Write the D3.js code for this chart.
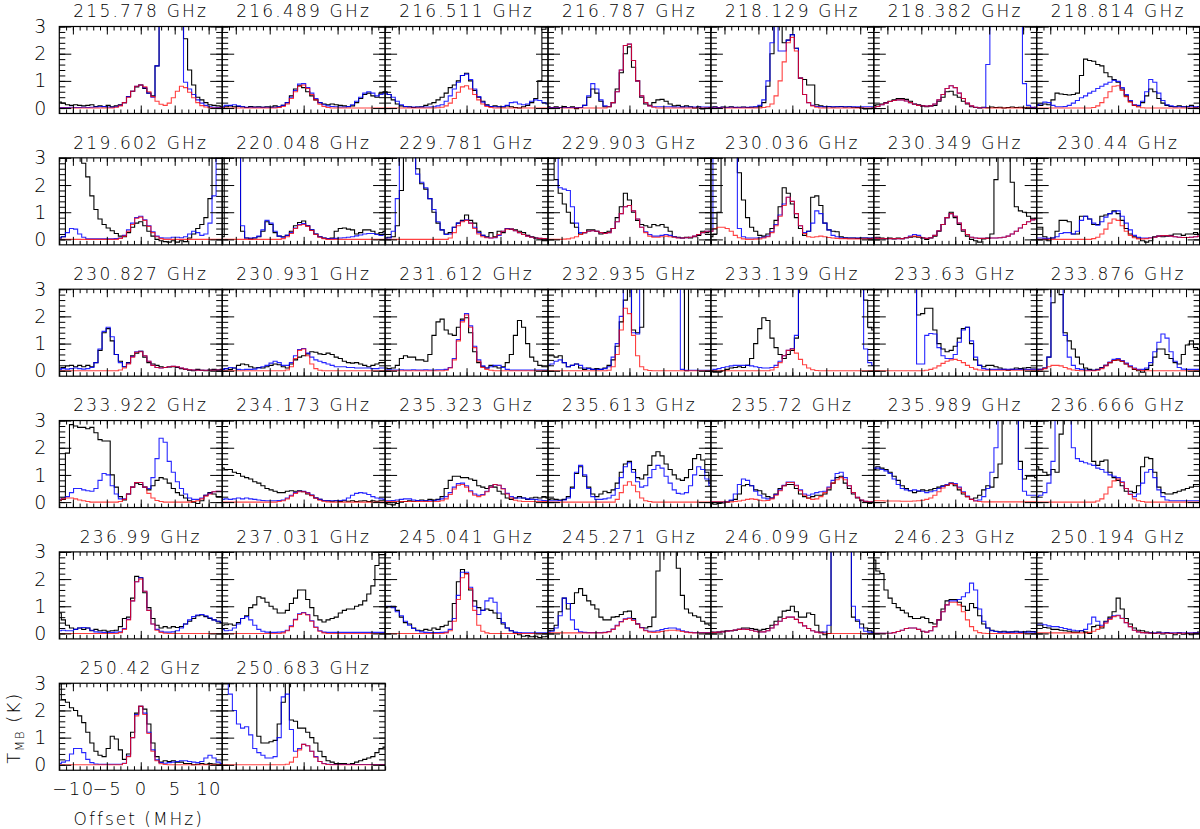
<!DOCTYPE html>
<html><head><meta charset="utf-8">
<script src="https://cdn.jsdelivr.net/npm/d3@7"></script>
<style>
html,body{margin:0;padding:0;background:#fff;}
svg{display:block;}
text{font-family:"DejaVu Sans",sans-serif;font-weight:200;fill:#000;}
</style></head><body>
<svg id="chart" width="1200" height="829"></svg>
<script>
// channel centres (MHz offset)
const channelOffsets = [-12,-11.4,-10.8,-10.2,-9.6,-9,-8.4,-7.8,-7.2,-6.6,-6,-5.4,-4.8,-4.2,-3.6,-3,-2.4,-1.8,-1.2,-0.6,0,0.6,1.2,1.8,2.4,3,3.6,4.2,4.8,5.4,6,6.6,7.2,7.8,8.4,9,9.6,10.2,10.8,11.4,12];
const freqLabels = ["215.778","216.489","216.511","216.787","218.129","218.382","218.814","219.602","220.048","229.781","229.903","230.036","230.349","230.44","230.827","230.931","231.612","232.935","233.139","233.63","233.876","233.922","234.173","235.323","235.613","235.72","235.989","236.666","236.99","237.031","245.041","245.271","246.099","246.23","250.194","250.42","250.683"];
const yTickValues = [0,1,2,3];
const xTickValues = [-10,-5,0,5,10];

// obs = observed (black), all = full model (blue), mod = species model (red)
const obs01=[0.22,0.18,0.12,0.1,0.12,0.1,0.08,0.1,0.12,0.06,0.08,0.05,0.1,0.05,0.08,0.12,0.2,0.42,0.62,0.78,0.85,0.72,0.55,0.45,1.55,3.5,3.5,3.5,3.5,3.5,3.5,2.55,1.4,0.85,0.4,0.3,0.2,0.12,0.1,0.08,0.05];
const all01=[0.02,0.02,0.02,0.03,0.02,0.02,0.03,0.02,0.03,0.04,0.05,0.06,0.04,0.03,0.05,0.1,0.2,0.42,0.62,0.8,0.85,0.75,0.55,0.4,1.55,3.5,3.5,3.5,3.5,3.5,3.5,0.95,0.7,0.5,0.3,0.18,0.1,0.05,0.03,0.02,0.02];
const mod01=[0,0,0,0,0,0,0,0,0,0,0,0,0,0,0.03,0.08,0.2,0.4,0.62,0.8,0.85,0.78,0.6,0.42,0.25,0.14,0.1,0.18,0.38,0.62,0.8,0.75,0.58,0.38,0.2,0.09,0.04,0.01,0,0,0];

const obs02=[0,0.05,0.08,0.05,0.06,0.05,0.02,0.06,0.04,0.05,0.03,0.05,0.04,0.08,0.05,0.1,0.2,0.45,0.7,0.82,0.75,0.6,0.45,0.3,0.2,0.15,0.12,0.15,0.12,0.1,0.08,0.05,0.08,0.2,0.35,0.5,0.55,0.45,0.4,0.55,0.6];
const all02=[0.05,0.1,0.1,0.12,0.08,0.05,0.03,0.03,0.03,0.03,0.03,0.03,0.03,0.03,0.05,0.1,0.2,0.4,0.65,0.88,0.9,0.75,0.55,0.35,0.2,0.12,0.08,0.06,0.05,0.04,0.04,0.06,0.12,0.25,0.4,0.55,0.6,0.55,0.45,0.5,0.55];
const mod02=[0,0,0,0,0,0,0,0,0,0,0,0,0,0,0.02,0.06,0.15,0.35,0.6,0.8,0.85,0.72,0.5,0.3,0.14,0.06,0.02,0,0,0,0,0,0,0,0,0,0,0,0,0,0];

const obs03=[0.6,0.5,0.3,0.15,0.08,0.05,0.05,0.02,0.04,0.05,0.1,0.15,0.2,0.3,0.4,0.55,0.75,0.85,1.0,1.2,1.28,1.0,0.65,0.4,0.25,0.12,0.06,0.08,0.05,0.04,0.08,0.05,0.02,0,0.05,0.1,0.2,0.35,1.0,2.9,3.5];
const all03=[0.55,0.5,0.4,0.25,0.12,0.06,0.04,0.04,0.04,0.04,0.04,0.04,0.05,0.08,0.12,0.25,0.45,0.7,0.95,1.2,1.25,1.05,0.7,0.42,0.22,0.1,0.06,0.05,0.05,0.06,0.1,0.2,0.22,0.15,0.12,0.15,0.25,0.3,0.28,0.2,0.15];
const mod03=[0,0,0,0,0,0,0,0,0,0,0,0,0,0.01,0.03,0.08,0.18,0.35,0.58,0.78,0.82,0.7,0.5,0.3,0.15,0.06,0.02,0,0,0,0,0,0,0,0,0,0,0,0,0,0];

const obs04=[0.05,0,0.05,0.02,0.06,0.02,0.05,-0.02,0.02,0.1,0.4,0.7,0.55,0.25,0.05,0.05,0.2,0.7,1.3,2.0,2.25,1.5,1.0,0.4,0.15,0.1,0.2,0.3,0.32,0.25,0.15,0.08,0.1,0.05,0.08,0.05,0,0.05,-0.03,0,0.02];
const all04=[0.02,0.02,0.02,0.02,0.02,0.02,0.02,0.02,0.02,0.1,0.45,0.9,0.7,0.3,0.08,0.06,0.2,0.6,1.4,2.3,2.35,1.75,1.0,0.45,0.2,0.08,0.05,0.05,0.05,0.05,0.05,0.04,0.04,0.04,0.04,0.04,0.04,0.04,0.04,0.04,0.04];
const mod04=[0,0,0,0,0,0,0,0,0,0,0,0,0,0,0,0.05,0.2,0.6,1.4,2.3,2.35,1.75,1.0,0.45,0.2,0.08,0.03,0,0,0,0,0,0,0,0,0,0,0,0,0,0];

const obs05=[0.03,0.05,0.02,0.04,0.03,0.05,0.02,0.03,0.04,0.02,0.03,0.04,0.05,0.2,0.8,2.0,3.5,3.5,2.4,2.5,2.7,2.2,1.1,1.05,0.85,0.85,0.12,0.08,0.05,0.06,0.04,0.05,0.06,0.04,0.05,0.03,0.02,0,-0.03,-0.02,0];
const all05=[0.02,0.03,0.02,0.03,0.02,0.03,0.03,0.02,0.03,0.03,0.04,0.05,0.1,0.3,1.0,2.4,3.5,2.1,2.1,2.5,2.7,2.2,1.1,0.5,0.2,0.1,0.06,0.05,0.05,0.05,0.05,0.05,0.05,0.05,0.05,0.05,0.05,0.05,0.05,0.05,0.05];
const mod05=[0,0,0,0,0,0,0,0,0,0,0,0,0,0.02,0.05,0.15,0.45,1.0,1.7,2.4,2.6,2.1,1.1,0.5,0.2,0.08,0.03,0,0,0,0,0,0,0,0,0,0,0,0,0,0];

const obs06=[0.1,0.12,0.15,0.2,0.25,0.3,0.35,0.35,0.32,0.25,0.15,0.12,0.08,0.05,0.08,0.1,0.25,0.4,0.6,0.62,0.48,0.4,0.25,0.15,0.05,0.02,0,0.03,0.01,0.04,0.02,0.03,0,0.02,0.04,0.02,0.03,0.01,0.03,0.02,0.03];
const all06=[0.03,0.06,0.12,0.18,0.24,0.28,0.3,0.3,0.26,0.2,0.14,0.1,0.08,0.07,0.08,0.15,0.3,0.5,0.72,0.82,0.75,0.55,0.35,0.18,0.08,0.03,0.01,0.02,1.6,3.5,3.5,3.5,3.5,3.5,3.5,3.5,3.5,0.9,0.1,0.03,0.02];
const mod06=[0.03,0.06,0.12,0.18,0.24,0.28,0.3,0.3,0.26,0.2,0.14,0.1,0.08,0.07,0.08,0.15,0.3,0.5,0.72,0.82,0.75,0.55,0.35,0.18,0.08,0.03,0.01,0,0,0,0,0,0,0,0,0,0,0,0,0,0];

const obs07=[0.12,0.1,0.15,0.12,0.3,0.55,0.52,0.5,0.48,0.5,0.55,1.2,1.8,1.75,1.72,1.6,1.55,1.3,1.15,1.05,0.95,0.7,0.45,0.25,0.1,0.08,0.2,0.45,0.7,0.6,0.35,0.18,0.1,0.06,0.05,0.08,0.05,0.05,0.1,0.03,0.05];
const all07=[0.1,0.15,0.22,0.2,0.1,0.05,0.05,0.06,0.1,0.18,0.28,0.38,0.45,0.55,0.62,0.72,0.8,0.88,0.95,1.02,0.98,0.75,0.5,0.28,0.12,0.1,0.25,0.6,1.05,0.95,0.55,0.28,0.12,0.08,0.05,0.05,0.05,0.05,0.05,0.05,0.05];
const mod07=[0,0,0,0,0,0,0,0,0,0,0,0,0,0,0.02,0.08,0.2,0.38,0.6,0.8,0.82,0.65,0.42,0.22,0.1,0.04,0.01,0,0,0,0,0,0,0,0,0,0,0,0,0,0];

const obs08=[0.05,0.1,3.5,3.5,3.5,3.5,2.8,2.3,1.6,1.1,0.75,0.55,0.42,0.32,0.22,0.12,0.1,0.25,0.45,0.6,0.65,0.5,0.3,0.12,0,-0.05,-0.08,-0.1,-0.05,-0.1,-0.05,-0.08,0.05,0.2,0.4,0.55,0.8,1.5,3.5,3.5,3.5];
const all08=[0.05,0.1,0.25,0.4,0.38,0.2,0.08,0.02,0.02,0.02,0.02,0.02,0.02,0.02,0.03,0.05,0.15,0.35,0.6,0.8,0.85,0.72,0.5,0.28,0.12,0.06,0.05,0.05,0.08,0.08,0.06,0.1,0.2,0.3,0.25,0.15,0.2,0.6,1.6,3.5,3.5];
const mod08=[0,0,0,0,0,0,0,0,0,0,0,0,0,0,0,0.04,0.12,0.3,0.55,0.78,0.82,0.7,0.48,0.25,0.1,0.03,0,0,0,0,0,0,0,0,0,0,0,0,0,0,0];

const obs09=[0.1,3.5,3.5,3.5,3.5,0.3,0.05,0.02,0.05,0.1,0.3,0.65,0.55,0.25,0.12,0.1,0.15,0.3,0.5,0.62,0.68,0.5,0.35,0.2,0.1,0.05,0.03,0.05,0.3,0.4,0.42,0.38,0.35,0.2,0.25,0.35,0.35,0.3,0.2,0.25,0.3];
const all09=[3.5,3.5,3.5,3.5,3.5,0.5,0.05,0.05,0.06,0.12,0.35,0.7,0.6,0.3,0.12,0.08,0.15,0.25,0.42,0.55,0.58,0.5,0.35,0.2,0.1,0.05,0.03,0.03,0.04,0.05,0.06,0.08,0.1,0.13,0.16,0.2,0.22,0.22,0.18,0.15,0.2];
const mod09=[0,0,0,0,0,0,0,0,0,0,0,0,0,0,0,0.03,0.1,0.22,0.4,0.52,0.55,0.48,0.33,0.18,0.08,0.03,0,0,0,0,0,0,0,0,0,0,0,0,0,0,0];

const obs10=[0.05,0.08,0.1,0.5,1.8,3.5,3.5,3.5,2.6,2.05,1.85,1.5,1.0,0.6,0.35,0.2,0.25,0.45,0.6,0.7,0.9,0.7,0.6,0.3,0.15,0.1,0.25,0.1,0.3,0.25,0.4,0.38,0.35,0.3,0.25,0.15,0.1,0.05,0.02,-0.05,-0.05];
const all10=[0.05,0.05,0.3,1.5,3.5,3.5,3.5,3.5,2.4,2.1,1.9,1.5,1.1,0.65,0.35,0.18,0.2,0.45,0.6,0.68,0.72,0.6,0.45,0.25,0.15,0.08,0.05,0.06,0.15,0.3,0.4,0.38,0.32,0.25,0.18,0.12,0.08,0.05,0.04,0.03,0.02];
const mod10=[0,0,0,0,0,0,0,0,0,0,0,0,0,0,0,0,0.05,0.25,0.5,0.65,0.7,0.6,0.4,0.2,0.1,0.06,0.05,0.08,0.18,0.3,0.38,0.38,0.32,0.25,0.18,0.12,0.08,0.05,0.04,0.03,0.02];

const obs11=[3.5,3.5,2.2,1.7,1.3,1.0,0.6,0.45,0.2,0.25,0.35,0.35,0.3,0.2,0.25,0.3,0.4,0.8,1.2,1.7,1.45,1.0,0.7,0.55,0.5,0.45,0.55,0.5,0.55,0.45,0.3,0.1,0.08,0.05,0.08,0.05,0.1,0.15,0.3,0.25,0.3];
const all11=[3.5,3.5,3.5,1.9,1.85,1.8,1.2,0.6,0.25,0.25,0.3,0.32,0.3,0.25,0.22,0.25,0.4,0.65,0.95,1.2,1.25,1.05,0.75,0.45,0.28,0.18,0.12,0.12,0.15,0.18,0.15,0.1,0.06,0.05,0.06,0.08,0.12,0.18,0.25,0.3,0.3];
const mod11=[0,0,0,0,0.01,0.02,0.05,0.1,0.18,0.25,0.3,0.32,0.3,0.25,0.22,0.25,0.4,0.65,0.95,1.2,1.25,1.05,0.75,0.45,0.25,0.12,0.08,0.08,0.1,0.12,0.1,0.08,0.05,0.05,0.06,0.08,0.12,0.18,0.25,0.3,0.3];

const obs12=[0.1,0.2,1.0,3.5,3.5,3.5,3.5,2.45,1.45,0.8,0.45,0.3,0.15,0.12,0.2,0.4,0.7,1.2,1.9,1.7,1.3,0.8,0.4,0.15,0.3,1.55,1.6,1.25,0.6,0.35,0.3,0.28,0.1,0.06,0.05,0.05,0.04,0.05,0.05,0.04,0.05];
const all12=[0.3,3.5,3.5,3.5,3.5,3.5,3.5,0.4,0.1,0.05,0.05,0.05,0.06,0.08,0.12,0.28,0.55,0.9,1.3,1.55,1.4,0.95,0.5,0.25,0.3,0.6,1.05,0.95,0.6,0.35,0.15,0.1,0.06,0.05,0.05,0.05,0.05,0.05,0.05,0.05,0.05];
const mod12=[0.3,0.4,0.45,0.45,0.4,0.3,0.15,0.06,0.02,0,0,0.01,0.02,0.05,0.1,0.25,0.5,0.85,1.25,1.55,1.4,0.95,0.5,0.22,0.1,0.08,0.1,0.12,0.1,0.07,0.05,0.04,0.03,0.03,0.02,0.02,0.02,0.02,0.02,0.02,0.02];

const obs13=[0.05,0.08,0.05,0.03,0.05,0.02,0.05,0.03,0.06,0.08,0.1,0.08,0.05,0,0.05,0.12,0.3,0.55,0.8,1.0,0.8,0.55,0.3,0.12,0,-0.05,-0.1,0.02,0.05,0.2,2.2,3.5,3.5,3.5,2.1,1.2,1.05,1.0,0.85,0.75,0.78];
const all13=[0.05,0.04,0.03,0.03,0.03,0.03,0.03,0.03,0.06,0.12,0.18,0.15,0.06,0.04,0.06,0.15,0.32,0.55,0.8,0.95,0.85,0.6,0.35,0.18,0.08,0.05,0.04,0.04,0.04,0.05,0.05,0.06,0.08,0.12,0.2,0.3,0.42,0.55,0.65,0.72,0.75];
const mod13=[0.05,0.04,0.03,0.03,0.03,0.03,0.03,0.03,0.06,0.1,0.12,0.1,0.06,0.04,0.06,0.15,0.32,0.55,0.8,0.95,0.85,0.6,0.35,0.18,0.08,0.05,0.04,0.04,0.04,0.05,0.05,0.06,0.08,0.12,0.2,0.3,0.42,0.55,0.65,0.72,0.75];

const obs14=[0.45,0.45,0.1,-0.05,0.05,0.3,0.7,0.7,0.65,0.2,0.2,0.85,0.85,0.75,0.55,0.55,0.85,0.9,0.95,1.05,0.95,0.7,0.4,0.2,0.1,0.05,-0.05,-0.1,-0.05,0.1,0.12,0.1,0.12,0.15,0.2,0.2,0.15,0.2,0.2,0.25,0.2];
const all14=[0.05,0.05,0.04,0.04,0.05,0.1,0.22,0.25,0.25,0.2,0.3,0.7,0.85,0.75,0.6,0.52,0.65,0.82,0.95,1.02,1.05,0.85,0.6,0.35,0.15,0.08,0.05,0.05,0.06,0.08,0.12,0.14,0.14,0.12,0.1,0.08,0.07,0.07,0.08,0.1,0.12];
const mod14=[0,0,0,0,0,0,0,0,0,0,0,0,0,0,0.03,0.08,0.2,0.38,0.6,0.75,0.7,0.5,0.3,0.15,0.06,0.02,0.02,0.03,0.05,0.08,0.12,0.14,0.14,0.12,0.1,0.08,0.07,0.07,0.08,0.1,0.12];

const obs15=[0.1,0.12,0.18,0.2,0.15,0.2,0.15,0.2,0.15,0.3,0.75,1.4,1.55,1.1,0.6,0.35,0.15,0.3,0.55,0.65,0.72,0.5,0.3,0.25,0.2,0.15,0.12,0.14,0.15,0.12,0.08,0.05,0.02,0,0.05,0.02,0,0.03,0.05,0.03,0.05];
const all15=[0.05,0.08,0.06,0.08,0.1,0.08,0.06,0.08,0.12,0.3,0.8,1.45,1.6,1.25,0.6,0.3,0.15,0.28,0.52,0.7,0.72,0.55,0.35,0.2,0.12,0.1,0.12,0.15,0.16,0.15,0.1,0.06,0.04,0.03,0.02,0.02,0.02,0.02,0.02,0.03,0.03];
const mod15=[0,0,0,0,0,0,0,0,0,0,0,0,0,0,0,0.03,0.1,0.25,0.5,0.68,0.7,0.55,0.35,0.2,0.12,0.1,0.12,0.15,0.16,0.15,0.1,0.06,0.04,0.03,0.02,0.02,0.02,0.02,0.02,0.03,0.03];

const obs16=[0.05,0.08,0.05,0.1,0.2,0.25,0.22,0.15,0.1,0.12,0.1,0.15,0.2,0.25,0.22,0.15,0.1,0.25,0.4,0.5,0.55,0.62,0.7,0.68,0.62,0.6,0.65,0.6,0.5,0.45,0.35,0.3,0.28,0.3,0.25,0.2,0.15,0.2,0.25,0.3,0.3];
const all16=[0.05,0.08,0.12,0.1,0.05,0.04,0.05,0.05,0.06,0.1,0.15,0.2,0.28,0.35,0.3,0.2,0.2,0.3,0.55,0.78,0.82,0.65,0.5,0.4,0.35,0.3,0.25,0.2,0.15,0.15,0.15,0.12,0.12,0.1,0.1,0.1,0.1,0.08,0.08,0.1,0.1];
const mod16=[0,0,0,0,0,0,0,0,0,0,0,0,0,0,0,0,0.03,0.15,0.45,0.75,0.8,0.55,0.25,0.08,0.02,0,0,0,0,0,0,0,0,0,0,0,0,0,0,0,0];

const obs17=[0.1,0.08,0.1,0.2,0.45,0.55,0.5,0.5,0.4,0.4,0.35,0.6,1.3,1.8,1.9,1.5,1.35,1.3,1.6,1.9,1.95,1.4,0.7,0.3,0.15,0.1,0.2,0.15,0.1,0.15,0.3,0.6,1.3,1.85,1.6,1.0,0.5,0.35,0.2,0.15,0.15];
const all17=[0.03,0.04,0.03,0.03,0.04,0.03,0.03,0.04,0.03,0.03,0.04,0.03,0.03,0.04,0.04,0.05,0.12,0.45,1.15,1.85,2.1,1.65,0.9,0.4,0.18,0.1,0.15,0.2,0.2,0.12,0.05,0.03,0.03,0.03,0.03,0.03,0.03,0.03,0.03,0.03,0.03];
const mod17=[0,0,0,0,0,0,0,0,0,0,0,0,0,0,0,0.02,0.1,0.4,1.1,1.8,2.05,1.6,0.85,0.35,0.12,0.05,0.02,0,0,0,0,0,0,0,0,0,0,0,0,0,0];

const obs18=[0.55,0.55,0.5,0.55,0.3,0.15,0.2,0.25,0.1,0.05,0.1,0.05,0.08,0.05,0.1,0.2,0.4,0.9,1.8,2.6,3.5,1.5,1.4,1.6,3.5,3.5,3.5,3.5,3.5,3.5,3.5,3.5,3.5,3.5,0,3.5,3.5,3.5,3.5,3.5,3.5];
const all18=[0.2,0.25,0.35,0.4,0.3,0.15,0.2,0.25,0.2,0.1,0.08,0.05,0.05,0.05,0.08,0.15,0.5,1.0,2.0,3.5,3.5,1.4,1.35,3.5,3.5,3.5,3.5,3.5,3.5,3.5,3.5,3.5,3.5,0.05,0.02,0.02,0.02,0.02,0.02,0.02,0.02];
const mod18=[0,0,0,0,0,0,0,0,0,0,0,0,0,0,0,0.02,0.15,0.6,1.5,2.3,2.1,1.3,0.55,0.15,0.04,0.01,0,0,0,0,0,0,0,0,0,0,0,0,0,0,0];

const obs19=[0,-0.05,-0.05,0,0.05,0.1,0.12,0.15,0.12,0.2,0.45,1.0,1.55,1.95,1.85,1.2,0.85,0.6,0.45,0.6,0.75,1.2,3.5,3.5,3.5,3.5,3.5,3.5,3.5,3.5,3.5,3.5,3.5,3.5,3.5,3.5,3.5,3.5,2.6,1.6,1.5];
const all19=[0.02,0.05,0.08,0.12,0.15,0.18,0.2,0.2,0.2,0.2,0.18,0.15,0.12,0.1,0.1,0.12,0.2,0.35,0.55,0.75,0.82,1.3,3.5,3.5,3.5,3.5,3.5,3.5,3.5,3.5,3.5,3.5,3.5,3.5,3.5,3.5,3.5,3.5,0.8,0.3,0.2];
const mod19=[0,0,0,0,0,0,0,0,0,0,0,0,0,0,0,0.03,0.12,0.3,0.55,0.75,0.8,0.65,0.42,0.22,0.1,0.04,0.01,0,0,0,0,0,0,0,0,0,0,0,0,0,0];

const obs20=[3.5,3.5,3.5,3.5,3.5,3.5,3.5,3.5,3.5,3.5,3.5,2.05,2.1,2.3,2.3,1.5,1.0,0.8,0.7,0.75,0.9,1.2,1.55,1.6,1.0,0.4,0.2,0.15,0.2,0.2,0.15,0.1,0.05,0.02,0.05,0.1,0.08,0.1,0.12,0.1,0.1];
const all20=[3.5,3.5,3.5,3.5,3.5,3.5,3.5,3.5,3.5,3.5,3.5,0.25,0.25,1.3,1.37,1.35,0.85,0.55,0.45,0.45,0.6,1.05,1.5,1.6,1.1,0.5,0.2,0.08,0.05,0.05,0.05,0.05,0.05,0.05,0.05,0.05,0.05,0.05,0.05,0.05,0.05];
const mod20=[0,0,0,0,0,0,0,0,0,0,0,0,0,0.02,0.05,0.1,0.18,0.27,0.35,0.4,0.42,0.38,0.3,0.2,0.12,0.06,0.03,0.02,0.02,0.02,0.02,0.02,0.02,0.02,0.02,0.02,0.02,0.02,0.02,0.02,0.02];

const obs21=[0.05,0.05,0.1,0.5,2.5,3.5,2.8,1.4,1.1,0.8,0.5,0.25,0.1,0.05,0.02,0.05,0.12,0.2,0.3,0.38,0.4,0.35,0.25,0.15,0.05,0,-0.05,0.05,0.2,0.5,0.8,0.8,0.6,0.45,0.3,0.25,0.6,0.95,1.1,0.85,0.8];
const all21=[0.05,0.05,0.1,0.5,3.5,3.5,3.5,1.3,0.5,0.2,0.08,0.05,0.03,0.02,0.02,0.04,0.1,0.2,0.32,0.42,0.45,0.38,0.28,0.18,0.1,0.05,0.05,0.1,0.3,0.7,1.05,1.35,1.2,0.7,0.35,0.12,0.06,0.05,0.05,0.05,0.05];
const mod21=[0.01,0.03,0.08,0.15,0.2,0.2,0.18,0.12,0.07,0.03,0.01,0,0,0,0,0.02,0.08,0.18,0.3,0.38,0.4,0.35,0.25,0.15,0.07,0.03,0.01,0,0,0,0,0,0,0,0,0,0,0,0,0,0];

const obs22=[0.05,0.1,1.8,2.85,2.8,2.75,2.75,2.7,2.75,2.55,2.3,2.25,2.25,1.0,0.55,0.2,0.08,0.3,0.55,0.7,0.65,0.55,0.45,0.6,0.8,0.9,0.85,0.7,0.5,0.35,0.25,0.15,0.05,0,-0.05,0.05,0.25,0.35,0.3,0.2,0.2];
const all22=[0.1,0.15,0.2,0.35,0.5,0.5,0.45,0.42,0.4,0.5,0.8,1.05,1.0,0.6,0.3,0.12,0.12,0.3,0.55,0.72,0.72,0.55,0.5,0.9,1.6,2.35,2.2,1.5,1.1,0.75,0.5,0.3,0.15,0.1,0.1,0.15,0.25,0.32,0.38,0.4,0.4];
const mod22=[0.08,0.12,0.15,0.15,0.12,0.08,0.05,0.02,0,0,0,0,0,0,0,0.02,0.1,0.3,0.55,0.72,0.72,0.55,0.32,0.15,0.06,0.02,0,0,0,0,0,0,0,0.02,0.05,0.12,0.22,0.3,0.38,0.4,0.4];

const obs23=[1.25,1.2,1.2,1.1,1.05,0.95,0.9,0.85,0.75,0.7,0.6,0.5,0.45,0.4,0.35,0.35,0.4,0.42,0.4,0.42,0.38,0.3,0.25,0.15,0.1,0.05,0.05,0.03,0.05,0.02,0.05,0.03,0.05,0.02,0.04,0.05,0.02,0.05,0.03,0.05,0.05];
const all23=[0.1,0.12,0.1,0.12,0.15,0.12,0.15,0.12,0.1,0.08,0.06,0.05,0.05,0.05,0.06,0.08,0.15,0.25,0.35,0.4,0.4,0.35,0.26,0.16,0.1,0.06,0.05,0.05,0.05,0.06,0.08,0.15,0.25,0.32,0.35,0.33,0.28,0.2,0.15,0.12,0.1];
const mod23=[0,0,0,0,0,0,0,0,0,0,0,0,0,0,0.02,0.05,0.12,0.22,0.32,0.38,0.38,0.33,0.24,0.14,0.07,0.03,0.01,0,0,0,0,0,0,0,0,0,0,0,0,0,0];

const obs24=[-0.05,-0.08,-0.1,-0.05,0,0.02,0.05,0.03,0.05,0.08,0.05,0.1,0.08,0.1,0.2,0.5,0.8,0.95,0.95,0.9,0.9,0.85,0.8,0.6,0.55,0.5,0.6,0.55,0.4,0.3,0.15,0.1,0.15,0.2,0.15,0.1,0.15,0.18,0.15,0.2,0.15];
const all24=[0.05,0.05,0.06,0.08,0.1,0.12,0.12,0.08,0.06,0.05,0.05,0.05,0.06,0.08,0.12,0.2,0.35,0.55,0.68,0.7,0.6,0.42,0.3,0.25,0.28,0.4,0.55,0.65,0.62,0.5,0.32,0.2,0.15,0.15,0.15,0.12,0.1,0.1,0.08,0.06,0.05];
const mod24=[0.02,0.02,0.02,0.02,0.02,0.02,0.02,0.02,0.02,0.02,0.02,0.02,0.02,0.02,0.05,0.12,0.28,0.48,0.62,0.65,0.55,0.38,0.25,0.2,0.25,0.38,0.55,0.65,0.62,0.48,0.3,0.15,0.07,0.04,0.02,0.02,0.02,0.02,0.02,0.02,0.02];

const obs25=[0.1,0.12,0.1,0.08,0.1,0.2,0.55,1.05,1.3,0.95,0.55,0.3,0.2,0.3,0.4,0.35,0.45,0.7,1.1,1.4,1.5,1.2,0.9,0.85,1.0,1.35,1.7,1.85,1.7,1.4,1.2,1.0,0.85,0.8,0.9,1.2,1.6,1.75,1.55,1.1,0.7];
const all25=[0.05,0.05,0.05,0.06,0.08,0.15,0.5,1.1,1.35,1.0,0.5,0.2,0.1,0.1,0.12,0.15,0.25,0.5,0.9,1.3,1.45,1.1,0.75,0.55,0.6,0.9,1.2,1.35,1.25,0.95,0.7,0.45,0.32,0.3,0.35,0.6,1.0,1.3,1.2,0.85,0.6];
const mod25=[0,0,0,0,0,0,0,0,0,0,0,0,0,0,0,0,0,0.1,0.35,0.62,0.75,0.62,0.38,0.15,0.05,0.02,0,0,0,0,0,0,0,0,0,0,0,0,0,0,0];

const obs26=[-0.05,-0.08,-0.05,-0.03,0,0.05,0.1,0.3,0.6,0.65,0.6,0.45,0.42,0.3,0.2,0.15,0.3,0.5,0.6,0.65,0.65,0.5,0.3,0.2,0.15,0.2,0.25,0.25,0.3,0.45,0.7,0.9,0.95,0.7,0.5,0.3,0.15,0.05,0,-0.05,0];
const all26=[0,0,0,0,0.02,0.08,0.3,0.65,0.85,0.8,0.6,0.4,0.25,0.15,0.12,0.15,0.28,0.45,0.62,0.74,0.74,0.62,0.45,0.3,0.25,0.3,0.35,0.38,0.4,0.55,0.8,1.05,1.1,0.9,0.6,0.35,0.18,0.08,0.03,0.01,0];
const mod26=[0.01,0.01,0.01,0.01,0.01,0.01,0.02,0.04,0.07,0.1,0.12,0.1,0.07,0.05,0.06,0.12,0.25,0.42,0.6,0.72,0.72,0.6,0.42,0.25,0.14,0.1,0.12,0.2,0.35,0.52,0.7,0.82,0.9,0.82,0.6,0.35,0.18,0.08,0.03,0.01,0];

const obs27=[1.2,1.3,1.25,1.2,1.1,0.95,0.8,0.6,0.5,0.42,0.35,0.4,0.45,0.42,0.45,0.5,0.55,0.6,0.62,0.7,0.6,0.45,0.3,0.2,0.1,0.15,0.25,0.45,0.6,0.55,0.9,1.4,3.5,3.5,3.5,3.5,1.5,0.85,0.95,0.95,0.9];
const all27=[1.25,1.25,1.2,1.15,1.05,0.85,0.65,0.5,0.45,0.42,0.45,0.42,0.4,0.35,0.38,0.42,0.5,0.58,0.65,0.7,0.68,0.55,0.38,0.22,0.1,0.05,0.08,0.2,0.5,1.1,2.0,3.5,3.5,3.5,3.5,3.5,1.2,0.4,0.25,0.25,0.25];
const mod27=[0.05,0.05,0.05,0.04,0.04,0.04,0.04,0.03,0.03,0.03,0.04,0.05,0.07,0.1,0.15,0.25,0.38,0.52,0.62,0.68,0.65,0.52,0.35,0.2,0.1,0.04,0.02,0.01,0.01,0.01,0.01,0.01,0.01,0.01,0.01,0.01,0.01,0.01,0.01,0.01,0.01];

const obs28=[1.3,1.2,1.1,1.0,1.2,1.1,2.5,3.5,3.5,3.5,3.5,3.5,3.5,3.5,1.5,1.35,1.5,1.55,1.1,0.9,0.8,0.6,0.4,0.4,0.35,0.6,1.3,1.65,1.6,1.1,0.55,0.35,0.3,0.3,0.35,0.4,0.45,0.5,0.55,0.65,0.65];
const all28=[0.2,0.25,0.35,0.7,1.5,3.5,3.5,3.5,3.5,2.0,1.6,1.5,1.45,1.4,1.35,1.25,1.2,1.1,1.0,0.95,0.9,0.75,0.5,0.3,0.2,0.3,0.7,1.1,1.2,0.9,0.45,0.2,0.08,0.05,0.05,0.05,0.05,0.05,0.05,0.05,0.05];
const mod28=[0,0,0,0,0,0,0,0,0,0,0,0,0,0,0,0.04,0.12,0.3,0.55,0.78,0.85,0.72,0.5,0.28,0.12,0.05,0.02,0,0,0,0,0,0,0,0,0,0,0,0,0,0];

const obs29=[0.75,0.5,0.3,0.2,0.15,0.2,0.15,0.2,0.1,0.15,0.1,0.12,0.08,0.1,0.12,0.25,0.55,0.6,1.3,2.1,2.05,1.5,0.95,0.55,0.3,0.2,0.25,0.2,0.25,0.22,0.25,0.35,0.45,0.55,0.65,0.68,0.62,0.55,0.5,0.45,0.4];
const all29=[0.1,0.12,0.1,0.1,0.15,0.2,0.22,0.2,0.12,0.06,0.05,0.04,0.04,0.04,0.05,0.06,0.18,0.52,1.2,1.9,2.05,1.55,0.85,0.35,0.15,0.08,0.05,0.05,0.06,0.1,0.2,0.35,0.5,0.62,0.68,0.7,0.65,0.58,0.5,0.45,0.4];
const mod29=[0,0,0,0,0,0,0,0,0,0,0,0,0,0,0,0.03,0.15,0.5,1.2,1.9,2.0,1.55,0.85,0.35,0.12,0.04,0.01,0,0,0,0,0,0,0,0,0,0,0,0,0,0];

const obs30=[0.3,0.32,0.35,0.3,0.4,0.55,0.65,0.95,1.05,1.35,1.3,1.15,1.0,0.9,0.75,0.75,0.85,1.1,1.3,1.6,1.6,1.25,0.95,0.65,0.5,0.42,0.5,0.55,0.6,0.75,0.85,0.9,0.9,1.0,1.05,1.2,1.45,1.75,2.5,2.9,2.9];
const all30=[0.15,0.1,0.12,0.2,0.35,0.55,0.62,0.5,0.3,0.15,0.08,0.05,0.04,0.04,0.05,0.06,0.12,0.28,0.52,0.72,0.77,0.7,0.47,0.24,0.1,0.05,0.04,0.04,0.04,0.04,0.04,0.04,0.04,0.04,0.04,0.04,0.04,0.04,0.04,0.04,0.04];
const mod30=[0,0,0,0,0,0,0,0,0,0,0,0,0,0,0,0.02,0.1,0.25,0.5,0.7,0.75,0.68,0.45,0.22,0.08,0.02,0,0,0,0,0,0,0,0,0,0,0,0,0,0,0];

const obs31=[0.95,0.98,1.0,0.85,0.6,0.4,0.35,0.2,0.12,0.1,0.15,0.12,0.2,0.15,0.25,0.3,0.45,1.1,1.9,2.35,2.2,1.6,1.2,0.95,0.85,0.9,0.85,0.75,0.55,0.35,0.2,0.1,0.02,-0.05,-0.1,-0.08,-0.12,-0.1,-0.15,-0.12,-0.1];
const all31=[1.0,1.0,0.95,0.8,0.65,0.45,0.3,0.18,0.1,0.06,0.04,0.03,0.03,0.03,0.04,0.05,0.15,0.55,1.4,2.25,2.25,1.7,1.0,0.7,0.85,1.2,1.3,1.15,0.75,0.4,0.2,0.1,0.05,0.03,0.02,0.02,0.02,0.02,0.02,0.02,0.02];
const mod31=[0,0,0,0,0,0,0,0,0,0,0,0,0,0,0,0.02,0.1,0.45,1.25,2.05,2.2,1.65,0.85,0.3,0.08,0.02,0,0,0,0,0,0,0,0,0,0,0,0,0,0,0];

const obs32=[0.1,0.12,0.3,0.8,1.3,0.9,1.1,1.5,1.65,1.4,1.2,1.05,0.9,0.6,0.5,0.5,0.6,0.62,0.7,0.8,0.82,0.55,0.35,0.22,0.2,0.25,0.6,2.3,3.5,3.5,3.5,3.5,2.4,1.4,0.9,0.75,0.65,0.6,0.45,0.35,0.3];
const all32=[0.05,0.08,0.2,0.65,1.3,1.1,0.5,0.15,0.06,0.04,0.03,0.03,0.03,0.03,0.04,0.07,0.16,0.3,0.44,0.54,0.57,0.5,0.36,0.22,0.12,0.08,0.08,0.1,0.14,0.18,0.2,0.2,0.16,0.1,0.06,0.04,0.03,0.03,0.03,0.03,0.03];
const mod32=[0.02,0.02,0.02,0.02,0.02,0.02,0.02,0.02,0.02,0.02,0.02,0.02,0.02,0.02,0.03,0.06,0.15,0.28,0.42,0.52,0.55,0.48,0.35,0.2,0.1,0.05,0.04,0.05,0.07,0.1,0.12,0.12,0.1,0.07,0.05,0.03,0.02,0.02,0.02,0.02,0.02];

const obs33=[0.05,0.04,0.05,0.08,0.1,0.1,0.12,0.15,0.2,0.2,0.18,0.15,0.12,0.15,0.18,0.3,0.45,0.6,0.82,0.85,1.0,0.8,0.6,0.6,0.75,0.7,0.3,0.05,-0.05,0,3.5,3.5,3.5,3.5,3.5,0.6,0.45,0.35,0.2,0.1,0.05];
const all33=[0.03,0.04,0.05,0.06,0.08,0.1,0.13,0.15,0.16,0.15,0.12,0.08,0.06,0.06,0.1,0.2,0.32,0.45,0.55,0.6,0.6,0.52,0.4,0.28,0.18,0.1,0.05,0.03,0.05,0.3,3.5,3.5,3.5,3.5,3.5,1.0,0.5,0.2,0.08,0.05,0.04];
const mod33=[0.03,0.04,0.05,0.06,0.08,0.1,0.13,0.15,0.16,0.15,0.12,0.08,0.06,0.06,0.1,0.2,0.32,0.45,0.55,0.6,0.6,0.52,0.4,0.28,0.18,0.1,0.05,0.02,0.01,0,0,0,0,0,0,0,0,0,0,0,0];

const obs34=[2.7,2.3,2.2,1.6,1.3,1.1,0.95,0.85,0.75,0.62,0.55,0.55,0.6,0.55,0.4,0.35,0.5,0.9,1.2,1.25,1.25,1.15,1.0,0.85,1.1,0.95,0.65,0.35,0.2,0.12,0.08,0.06,0.08,0.05,0.06,0.08,0.05,0.06,0.08,0.07,0.06];
const all34=[0.01,0.01,0.01,0.01,0.01,0.03,0.07,0.12,0.18,0.2,0.2,0.15,0.08,0.05,0.1,0.25,0.5,0.8,1.05,1.2,1.2,1.25,1.35,1.5,1.85,1.6,0.9,0.45,0.2,0.1,0.07,0.05,0.05,0.05,0.05,0.05,0.05,0.05,0.05,0.05,0.05];
const mod34=[0.01,0.01,0.01,0.01,0.01,0.03,0.07,0.12,0.18,0.2,0.2,0.15,0.08,0.05,0.1,0.25,0.5,0.8,1.05,1.15,1.15,1.05,0.8,0.5,0.25,0.1,0.03,0.01,0,0,0,0,0,0,0,0,0,0,0,0,0];

const obs35=[0.3,0.3,0.22,0.2,0.15,0.15,0.12,0.1,0.08,0.05,0.05,0.1,0.05,0,0.25,0.3,0.2,0.45,0.6,0.8,1.3,0.9,0.55,0.35,0.2,0.12,0.1,0.05,0.02,0,0.05,-0.02,0.03,0,-0.05,0.02,-0.03,0,-0.05,0.02,0.05];
const all35=[0.35,0.35,0.32,0.28,0.25,0.25,0.22,0.18,0.15,0.12,0.1,0.1,0.15,0.35,0.6,0.45,0.3,0.42,0.55,0.65,0.67,0.56,0.4,0.25,0.12,0.06,0.03,0.02,0.02,0.02,0.02,0.02,0.02,0.02,0.02,0.02,0.02,0.02,0.02,0.02,0.02];
const mod35=[0.02,0.02,0.02,0.02,0.02,0.02,0.02,0.02,0.02,0.02,0.02,0.02,0.02,0.04,0.08,0.15,0.25,0.38,0.52,0.62,0.65,0.55,0.4,0.25,0.12,0.06,0.03,0.02,0.01,0.01,0.01,0.01,0.01,0.01,0.01,0.01,0.01,0.01,0.01,0.01,0.01];

const obs36=[3.5,2.4,2.3,2.1,2.0,1.8,1.55,1.2,0.8,0.5,0.35,0.3,0.6,1.05,0.95,0.55,0.2,0.4,1.2,1.9,2.15,2.05,1.5,0.8,0.3,0.1,0.15,0.12,0.15,0.1,0.1,0.05,0.05,0,0.02,0.05,0.02,0.05,0.03,0.02,0];
const all36=[0.05,0.1,0.15,0.4,0.6,0.6,0.45,0.2,0.08,0.03,0.02,0.02,0.02,0.02,0.02,0.02,0.06,0.32,1.0,1.85,2.15,1.9,1.2,0.55,0.18,0.08,0.06,0.08,0.1,0.12,0.15,0.15,0.12,0.1,0.08,0.12,0.25,0.35,0.25,0.1,0.05];
const mod36=[0,0,0,0,0,0,0,0,0,0,0,0,0,0,0,0,0.05,0.3,1.0,1.8,2.15,1.85,1.15,0.5,0.15,0.04,0.01,0,0,0,0,0,0,0,0,0,0,0,0,0,0];

const obs37=[3.5,3.5,3.5,3.5,3.5,3.5,3.5,3.5,3.5,1.05,0.8,0.8,0.85,0.9,1.5,2.3,3.5,1.65,1.6,1.35,1.35,1.2,1.0,0.8,0.5,0.3,0.15,0.1,0.05,0.05,0.05,0.02,0.05,0.1,0.15,0.2,0.25,0.3,0.45,0.6,0.65];
const all37=[3.5,3.5,2.6,2.0,1.5,1.35,1.4,1.1,0.6,0.45,0.35,0.25,0.25,0.3,1.0,2.5,2.6,1.3,0.5,0.6,0.75,0.7,0.5,0.3,0.12,0.05,0.02,0.01,0.01,0.01,0.01,0.01,0.01,0.01,0.01,0.01,0.01,0.01,0.01,0.01,0.01];
const mod37=[0,0,0,0,0,0,0,0,0,0,0,0,0,0,0,0,0.02,0.1,0.28,0.55,0.75,0.7,0.5,0.28,0.12,0.04,0.01,0,0,0,0,0,0,0,0,0,0,0,0,0,0];

const obsList=[obs01,obs02,obs03,obs04,obs05,obs06,obs07,obs08,obs09,obs10,obs11,obs12,obs13,obs14,obs15,obs16,obs17,obs18,obs19,obs20,obs21,obs22,obs23,obs24,obs25,obs26,obs27,obs28,obs29,obs30,obs31,obs32,obs33,obs34,obs35,obs36,obs37];
const allList=[all01,all02,all03,all04,all05,all06,all07,all08,all09,all10,all11,all12,all13,all14,all15,all16,all17,all18,all19,all20,all21,all22,all23,all24,all25,all26,all27,all28,all29,all30,all31,all32,all33,all34,all35,all36,all37];
const modList=[mod01,mod02,mod03,mod04,mod05,mod06,mod07,mod08,mod09,mod10,mod11,mod12,mod13,mod14,mod15,mod16,mod17,mod18,mod19,mod20,mod21,mod22,mod23,mod24,mod25,mod26,mod27,mod28,mod29,mod30,mod31,mod32,mod33,mod34,mod35,mod36,mod37];

const panels = freqLabels.map((f,i)=>({label:f+" GHz", series:[
  {vals:obsList[i], color:"#000000", op:1},
  {vals:allList[i], color:"#0000ff", op:0.85},
  {vals:modList[i], color:"#ff0000", op:0.75}
]}));

// ---- layout ----
const left0=59.3, top0=26.5, pw=162.9, ph=87, rowPitch=131.35, ncol=7;
const svg=d3.select("#chart");
const x=d3.scaleLinear().domain([-12,12]).range([0,pw]);
const y=d3.scaleLinear().domain([-0.2,3]).range([ph,0]);
svg.append("defs").append("clipPath").attr("id","pclip").append("rect")
  .attr("x",0).attr("y",0).attr("width",pw).attr("height",ph);

const line=d3.line().x((d,i)=>x(channelOffsets[i])).y(d=>y(d)).curve(d3.curveStep);
const minorX=d3.range(-12,12.001,1);
const minorY=d3.range(0,3.001,0.2).map(v=>+v.toFixed(1));

function styleAxis(g){ g.select(".domain").remove(); g.selectAll("line").attr("stroke","#000").attr("stroke-width",1); }

panels.forEach((p,k)=>{
  const c=k%ncol, r=Math.floor(k/ncol);
  const g=svg.append("g").attr("transform",`translate(${left0+c*pw},${top0+r*rowPitch})`);
  g.append("text").attr("x",pw/2).attr("y",-9.2).attr("text-anchor","middle")
    .attr("font-size",17).style("letter-spacing","2.2px").text(p.label);
  const lg=g.append("g").attr("clip-path","url(#pclip)");
  p.series.forEach(s=>{
    lg.append("path").datum(s.vals).attr("d",line).attr("fill","none")
      .attr("stroke",s.color).attr("stroke-width",1.1).attr("stroke-opacity",s.op);
  });
  // ticks
  g.append("g").attr("transform",`translate(0,${ph})`).call(d3.axisBottom(x).tickValues(minorX).tickSize(-4).tickFormat("")).call(styleAxis);
  g.append("g").attr("transform",`translate(0,${ph})`).call(d3.axisBottom(x).tickValues(xTickValues).tickSize(-8).tickFormat("")).call(styleAxis);
  g.append("g").call(d3.axisTop(x).tickValues(minorX).tickSize(-4).tickFormat("")).call(styleAxis);
  g.append("g").call(d3.axisTop(x).tickValues(xTickValues).tickSize(-8).tickFormat("")).call(styleAxis);
  g.append("g").call(d3.axisLeft(y).tickValues(minorY).tickSize(-6).tickFormat("")).call(styleAxis);
  g.append("g").call(d3.axisLeft(y).tickValues(yTickValues).tickSize(-12).tickFormat("")).call(styleAxis);
  g.append("g").attr("transform",`translate(${pw},0)`).call(d3.axisRight(y).tickValues(minorY).tickSize(-6).tickFormat("")).call(styleAxis);
  g.append("g").attr("transform",`translate(${pw},0)`).call(d3.axisRight(y).tickValues(yTickValues).tickSize(-12).tickFormat("")).call(styleAxis);
  g.append("rect").attr("width",pw).attr("height",ph).attr("fill","none").attr("stroke","#000").attr("stroke-width",1.2);
  if(c===0){
    const ya=g.append("g").call(d3.axisLeft(y).tickValues(yTickValues).tickSize(0).tickPadding(13).tickFormat(d3.format("d")));
    ya.select(".domain").remove();
    ya.selectAll("text").attr("font-size",19).attr("font-family","DejaVu Sans").attr("font-weight",200).attr("fill","#000");
  }
  if(k===35){
    const xa=g.append("g").attr("transform",`translate(0,${ph})`).call(d3.axisBottom(x).tickValues(xTickValues).tickSize(0).tickPadding(12).tickFormat(d3.format("d")));
    xa.select(".domain").remove();
    xa.selectAll("text").attr("font-size",18).attr("font-family","DejaVu Sans").attr("font-weight",200).attr("fill","#000").style("letter-spacing","1.5px");
    g.append("text").attr("x",pw/2-2).attr("y",ph+55).attr("text-anchor","middle")
      .attr("font-size",17).style("letter-spacing","2px").text("Offset (MHz)");
  }
});

// y axis title
const yt=svg.append("text").attr("transform","translate(20,728) rotate(-90)").attr("text-anchor","middle")
  .attr("font-size",18).style("letter-spacing","1.5px");
yt.append("tspan").text("T");
yt.append("tspan").attr("font-size",12).attr("dy",4).text("MB");
yt.append("tspan").attr("dy",-4).text(" (K)");

[obsList,allList,modList].forEach((L,j)=>L.forEach((a,i)=>{ if(a.length!==41) console.error("bad length",j,i,a.length); }));
</script>
</body></html>
